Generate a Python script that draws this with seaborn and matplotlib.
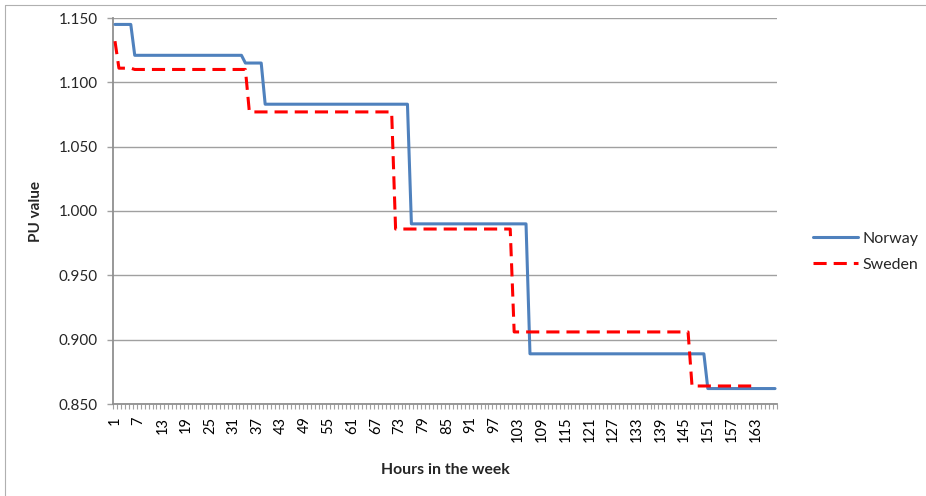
import numpy as np
import pandas as pd
import matplotlib
matplotlib.use("Agg")
import matplotlib.pyplot as plt
import seaborn as sns
from matplotlib.lines import Line2D
from matplotlib.ticker import FixedLocator, FormatStrFormatter

# ---- data (step levels and how many hours each lasts) ----
norway_levels = [1.145, 1.121, 1.115, 1.083, 0.990, 0.889, 0.862]
norway_hours_per_level = [5, 28, 5, 37, 30, 45, 18]
sweden_levels = [1.132, 1.111, 1.110, 1.077, 0.986, 0.906, 0.864]
sweden_hours_per_level = [1, 4, 29, 37, 30, 45, 16]
series_names = ["Norway", "Sweden"]
x_tick_labels = [1, 7, 13, 19, 25, 31, 37, 43, 49, 55, 61, 67, 73, 79, 85,
                 91, 97, 103, 109, 115, 121, 127, 133, 139, 145, 151, 157, 163]
y_ticks = [0.850, 0.900, 0.950, 1.000, 1.050, 1.100, 1.150]
n_hours = 168

norway = np.repeat(norway_levels, norway_hours_per_level)
sweden = np.repeat(sweden_levels, sweden_hours_per_level)
df = pd.concat([
    pd.DataFrame({"hour": np.arange(1, len(norway) + 1), "value": norway, "country": "Norway"}),
    pd.DataFrame({"hour": np.arange(1, len(sweden) + 1), "value": sweden, "country": "Sweden"}),
], ignore_index=True)

sns.set_style("white")
plt.rcParams["font.family"] = ["Lato", "DejaVu Sans"]

W, H = 926, 496
fig = plt.figure(figsize=(W / 100, H / 100), dpi=100)
ax_l, ax_r, ax_t, ax_b = 113, 777, 18, 404
ax = fig.add_axes([ax_l / W, 1 - ax_b / H, (ax_r - ax_l) / W, (ax_b - ax_t) / H])

sns.lineplot(data=df, x="hour", y="value", hue="country", style="country",
             hue_order=series_names, style_order=series_names,
             palette={"Norway": "#4F81BD", "Sweden": "#FF0000"},
             dashes={"Norway": "", "Sweden": (4.3, 2.3)},
             linewidth=2.2, estimator=None, ax=ax, zorder=3)

grid_c = "#A0A0A0"
ax.set_xlim(0.5, n_hours + 0.5)
ax.set_ylim(0.85, 1.15)
ax.set_yticks(y_ticks)
ax.yaxis.set_major_formatter(FormatStrFormatter("%.3f"))
ax.yaxis.grid(True, color=grid_c, linewidth=1.0)
ax.xaxis.grid(False)
ax.set_axisbelow(True)

ax.set_xticks(x_tick_labels)
ax.set_xticklabels([str(v) for v in x_tick_labels], rotation=90)
ax.xaxis.set_minor_locator(FixedLocator(np.arange(0.5, n_hours + 1, 1.0)))
ax.tick_params(axis="x", which="major", length=0, pad=9, labelsize=10.5, colors="black")
ax.tick_params(axis="x", which="minor", length=3.5, width=0.8, color="#A0A0A0", bottom=True)
ax.tick_params(axis="y", which="major", length=4, width=1.0, color=grid_c, pad=7,
               labelsize=11, left=True)

for s in ["top", "right"]:
    ax.spines[s].set_visible(False)
for s in ["left", "bottom"]:
    ax.spines[s].set_color("#909090")
    ax.spines[s].set_linewidth(1.3)

ax.set_xlabel("Hours in the week", fontsize=11.3, fontweight="bold", va="center")
ax.xaxis.set_label_coords(0.5, (ax_b - 470) / (ax_b - ax_t))
ax.set_ylabel("PU value", fontsize=11, fontweight="bold", va="center", ha="center")
ax.yaxis.set_label_coords((36 - ax_l) / (ax_r - ax_l), 0.5)

handles, labels = ax.get_legend_handles_labels()
ax.legend(handles=handles, labels=labels, loc="center left",
          bbox_to_anchor=(813 / W, 1 - 251.5 / H), bbox_transform=fig.transFigure,
          frameon=False, fontsize=11.5, handlelength=2.8, handletextpad=0.3,
          labelspacing=0.75, borderpad=0, borderaxespad=0)

# chart-area border (top and left edges visible)
bc = "#B0B0B0"
fig.add_artist(Line2D([5 / W, 1], [1 - 5 / H, 1 - 5 / H], transform=fig.transFigure, color=bc, lw=0.8))
fig.add_artist(Line2D([5 / W, 5 / W], [0, 1 - 5 / H], transform=fig.transFigure, color=bc, lw=0.8))

fig.savefig("out.png", dpi=100)
